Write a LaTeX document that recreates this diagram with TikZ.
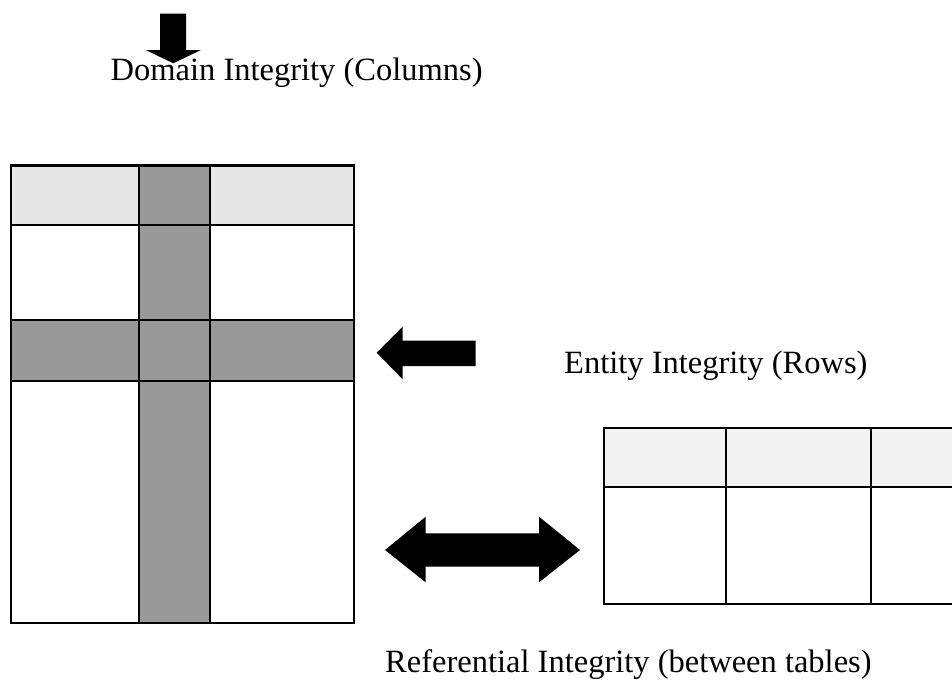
\documentclass[tikz,border=0pt]{standalone}
\usepackage{fontspec}
\setmainfont{Liberation Serif}
\definecolor{hdrgray}{HTML}{E6E6E6}
\definecolor{bandgray}{HTML}{999999}
\definecolor{hdrgraylight}{HTML}{F2F2F2}
\begin{document}
\begin{tikzpicture}[x=1pt,y=-1pt,
  gridline/.style={line width=2.2pt,black},
  gridline2/.style={line width=2pt,black},
  blockarrow/.style={fill=black,draw=none},
  lbl/.style={anchor=base west,inner sep=0pt,font=\fontsize{32.5}{36}\selectfont}]
\useasboundingbox (0,0) rectangle (952,691);
\clip (0,0) rectangle (952,691);
% ---- left table fills
\fill[hdrgray] (11,165.5) rectangle (354,225);
\fill[bandgray] (139,165.5) rectangle (210,622.7);
\fill[bandgray] (11,320) rectangle (354,380.7);
% ---- left table lines
\draw[gridline] (11,165.5) rectangle (354,622.7);
\draw[gridline] (139,165.5) -- (139,622.7);
\draw[gridline] (210,165.5) -- (210,622.7);
\draw[gridline] (11,225) -- (354,225);
\draw[gridline] (11,320) -- (354,320);
\draw[gridline] (11,380.7) -- (354,380.7);
% ---- right table
\fill[hdrgraylight] (604,428) rectangle (960,487);
\draw[gridline2] (960,428) -- (604,428) -- (604,604) -- (960,604);
\draw[gridline2] (604,487) -- (960,487);
\draw[gridline2] (726,428) -- (726,604);
\draw[gridline2] (871,428) -- (871,604);
% ---- down arrow
\fill[blockarrow] (160,13.7) -- (186,13.7) -- (186,50) -- (201,50) -- (173.3,63.3)
  -- (145.7,50) -- (160,50) -- cycle;
% ---- left arrow
\fill[blockarrow] (376.7,352.7) -- (402.7,326.7) -- (402.7,340.7) -- (475.7,340.7)
  -- (475.7,366) -- (402.7,366) -- (402.7,379.3) -- cycle;
% ---- double arrow
\fill[blockarrow] (385,550) -- (425.7,516.7) -- (425.7,533.3) -- (539,533.3)
  -- (539,516.7) -- (580,550) -- (539,582.3) -- (539,566.7) -- (425.7,566.7)
  -- (425.7,582.3) -- cycle;
% ---- labels
\node[lbl] (domain) at (110.5,80) {Domain Integrity (Columns)};
\node[lbl] (entity) at (564,373) {Entity Integrity (Rows)};
\node[lbl] (referential) at (385,672) {Referential Integrity (between tables)};
\end{tikzpicture}
\end{document}
